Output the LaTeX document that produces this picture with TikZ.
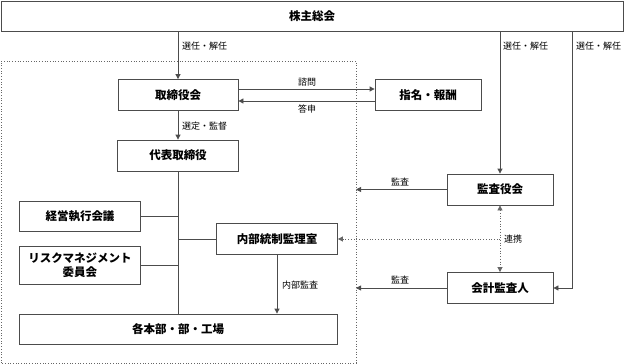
\documentclass[tikz,border=0pt]{standalone}
\usepackage{fontspec}
\setmainfont{Noto Sans CJK JP}
\usepackage{tikz}
\usetikzlibrary{arrows.meta, positioning}

\begin{document}
\begin{tikzpicture}[x=1pt, y=-1pt,
    box/.style={draw=black!70, line width=0.8pt, fill=white, inner sep=0pt,
      align=center, font=\fontsize{11.5}{14}\selectfont\bfseries},
    lbl/.style={inner sep=1pt, font=\fontsize{9}{11}\selectfont},
    link/.style={draw=black!70, line width=0.8pt},
    arr/.style={link, -{Triangle[length=5pt, width=5pt]}},
    dots/.style={draw=black!60, line width=0.7pt, dotted}]
  \useasboundingbox (0,0) rectangle (625,364);
  % ---------- FRAME ----------
  \coordinate (frameSW) at (1,363);
  \coordinate (frameNE) at (356,61);
  \draw[dots] (frameSW) rectangle (frameNE);
  % ---------- BOXES ----------
  \node[box, minimum width=622pt, minimum height=30pt] (soukai) at (312,16) {株主総会};
  \node[box, minimum width=120pt, minimum height=31pt] (torishimari) at (178,95) {取締役会};
  \node[box, minimum width=106pt, minimum height=31pt] (shimei) at (428,95) {指名・報酬};
  \node[box, minimum width=121pt, minimum height=31pt] (daihyo) at (178,155.5) {代表取締役};
  \node[box, minimum width=121pt, minimum height=30pt] (keiei) at (80,216) {経営執行会議};
  \node[box, minimum width=121pt, minimum height=38pt] (risk) at (80,265) {リスクマネジメント\\委員会};
  \node[box, minimum width=121pt, minimum height=31pt] (naibu) at (277,239) {内部統制監理室};
  \node[box, minimum width=318pt, minimum height=30pt] (kakubu) at (178,329) {各本部・部・工場};
  \node[box, minimum width=106pt, minimum height=31pt] (kansayaku) at (500,189.5) {監査役会};
  \node[box, minimum width=106pt, minimum height=31pt] (kaikei) at (500,288) {会計監査人};
  \coordinate (rightline) at (572,288);
  % ---------- CONNECTORS ----------
  \draw[arr] (soukai.south -| torishimari.north) -- (torishimari.north);
  \draw[arr] ([yshift=6pt]torishimari.east) -- ([yshift=6pt]shimei.west);
  \draw[arr] ([yshift=-6pt]shimei.west) -- ([yshift=-6pt]torishimari.east);
  \draw[arr] (torishimari.south) -- (daihyo.north);
  \draw[link] (daihyo.south) -- (kakubu.north);
  \draw[link] (keiei.east) -- (keiei.east -| daihyo.south);
  \draw[link] (risk.east) -- (risk.east -| daihyo.south);
  \draw[link] (naibu.west) -- (naibu.west -| daihyo.south);
  \draw[arr] (naibu.south) -- (naibu.south |- kakubu.north);
  \draw[arr] (soukai.south -| kansayaku.north) -- (kansayaku.north);
  \draw[arr] (soukai.south -| rightline) |- (kaikei.east);
  \draw[arr] (kansayaku.west) -- (kansayaku.west -| frameNE);
  \draw[arr] (kaikei.west) -- (kaikei.west -| frameNE);
  \draw[dots, {Triangle[length=5pt, width=5pt]}-{Triangle[length=5pt, width=5pt]}]
    (kansayaku.south) -- (kaikei.north);
  \draw[dots, -{Triangle[length=5pt, width=5pt]}] (kansayaku.south |- naibu.east) -- (naibu.east);
  % ---------- LABELS ----------
  \node[lbl, anchor=west] (l1) at (181,46) {選任・解任};
  \node[lbl, anchor=west] (l2) at (502,46) {選任・解任};
  \node[lbl, anchor=west] (l3) at (575,46) {選任・解任};
  \node[lbl, anchor=west] (l4) at (181,126) {選定・監督};
  \node[lbl] (l5) at (307,82) {諮問};
  \node[lbl] (l6) at (307,109) {答申};
  \node[lbl] (l7) at (400,182) {監査};
  \node[lbl] (l8) at (400,280) {監査};
  \node[lbl, anchor=west] (l9) at (281,285) {内部監査};
  \node[lbl, anchor=west] (l10) at (503,239) {連携};
\end{tikzpicture}
\end{document}
